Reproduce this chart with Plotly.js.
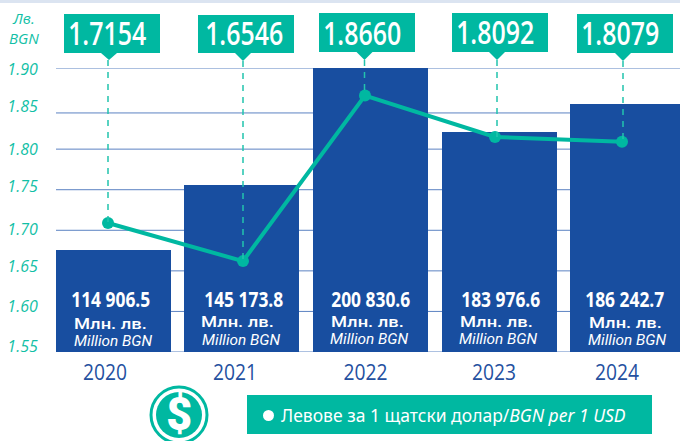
<!DOCTYPE html>
<html>
<head>
<meta charset="utf-8">
<script src="https://cdn.plot.ly/plotly-3.0.1.min.js"></script>
<style>html,body{margin:0;padding:0;background:#fff;overflow:hidden}#c{width:680px;height:441px}</style>
</head>
<body>
<div id="c"></div>
<script>
// ---- data ----
const years = ['2020', '2021', '2022', '2023', '2024'];
const rateLabels = ['1.7154', '1.6546', '1.8660', '1.8092', '1.8079'];
const rateLine = [1.709, 1.662, 1.866, 1.815, 1.809];
const barLevels = [1.6757, 1.7558, 1.9012, 1.8211, 1.8556];
const amountLabels = ['114 906.5', '145 173.8', '200 830.6', '183 976.6', '186 242.7'];
const axisLabels = ['1.90', '1.85', '1.80', '1.75', '1.70', '1.65', '1.60', '1.55'];
const gridLevels = [1.90, 1.8446, 1.80, 1.75, 1.70, 1.65, 1.60, 1.55];

// ---- page geometry (pixels in the 680x441 frame) ----
const W = 680, H = 441;
const plotL = 56, plotR = 680, plotT = 68, plotB = 352;
const step = 128.5, firstCentre = 113.5, barPx = 115;
const yMin = 1.55, yMax = 1.90;
const px = x => x / W;
const py = y => 1 - y / H;
const pxToX = p => (p - firstCentre) / step;
const pxToY = p => yMin + (plotB - p) / (plotB - plotT) * (yMax - yMin);
const yToPx = v => plotB - (v - yMin) / (yMax - yMin) * (plotB - plotT);

const barCentrePx = [113.5, 241, 370.5, 499.5, 627.5];
const pointPx = [108, 243, 365, 495, 622];
const dashPx = [108, 243, 364.5, 497, 623];
const yearPx = [105, 235, 365.5, 494, 617];
const axisLabelPx = [69, 106, 149, 186, 229, 266, 306, 346];
const boxes = [
  {l: 64, r: 160, t: 14, b: 53, tip: 109, tipY: 60, tx: 107, ty: 32},
  {l: 198, r: 294, t: 15, b: 53, tip: 243, tipY: 61, tx: 244, ty: 32},
  {l: 319, r: 415, t: 13, b: 52, tip: 364.5, tipY: 60, tx: 362, ty: 32},
  {l: 452, r: 548, t: 13, b: 52, tip: 497, tipY: 60, tx: 495, ty: 31.5},
  {l: 577, r: 673, t: 14, b: 53, tip: 623, tipY: 61, tx: 619.5, ty: 32}
];
const amountX = [111, 243.7, 371, 501, 625];
const mlnX = [110, 238, 367, 496.7, 625], mlnY = [323.5, 322, 322, 322, 323];
const millionX = [113, 241, 370, 499, 627.5], millionY = [340.5, 339.5, 339, 339, 340];

const TEAL = '#00b8a1', BLUE = '#184ea0', TICK = '#12bfa6', YEAR = '#24509f', GRID = '#5b82c2';

const traces = [
  {type: 'bar', x: barCentrePx.map(pxToX), y: barLevels.map(v => v - yMin), base: yMin, width: barPx / step,
   marker: {color: BLUE, line: {width: 0}}, cliponaxis: false, hoverinfo: 'skip'},
  {type: 'scatter', mode: 'lines+markers', x: pointPx.map(pxToX), y: rateLine,
   line: {color: TEAL, width: 4}, marker: {color: TEAL, size: 12}, cliponaxis: false, hoverinfo: 'skip'}
];

const shapes = [];
shapes.push({type: 'rect', xref: 'paper', yref: 'paper', x0: 0, x1: 1, y0: py(0), y1: py(3),
  fillcolor: '#dbe4f1', line: {width: 0}, layer: 'below'});
gridLevels.forEach(v => shapes.push({type: 'line', xref: 'paper', yref: 'y', x0: px(plotL), x1: px(plotR),
  y0: v, y1: v, line: {color: GRID, width: 1}, layer: 'below'}));
rateLine.forEach((v, i) => shapes.push({type: 'line', xref: 'paper', yref: 'paper',
  x0: px(dashPx[i]), x1: px(dashPx[i]), y0: py(boxes[i].tipY), y1: py(yToPx(v)),
  line: {color: '#22c3ad', width: 1.5, dash: '6px,6px'}}));
boxes.forEach(b => {
  shapes.push({type: 'rect', xref: 'paper', yref: 'paper', x0: px(b.l), x1: px(b.r), y0: py(b.t), y1: py(b.b),
    fillcolor: TEAL, line: {width: 0}});
  shapes.push({type: 'path', xref: 'paper', yref: 'paper',
    path: `M ${px(b.tip - 8)} ${py(b.b)} L ${px(b.tip + 8)} ${py(b.b)} L ${px(b.tip)} ${py(b.tipY)} Z`,
    fillcolor: TEAL, line: {width: 0}});
});
shapes.push({type: 'rect', xref: 'paper', yref: 'paper', x0: px(247), x1: px(652), y0: py(395), y1: py(434),
  fillcolor: TEAL, line: {width: 0}});
const circle = (cx, cy, r, style) => Object.assign({type: 'circle', xref: 'paper', yref: 'paper',
  x0: px(cx - r), x1: px(cx + r), y0: py(cy + r), y1: py(cy - r)}, style);
shapes.push(circle(268.5, 415.5, 5.5, {fillcolor: '#fff', line: {width: 0}}));
shapes.push(circle(179, 415, 28, {fillcolor: 'rgba(0,0,0,0)', line: {color: TEAL, width: 3}}));
shapes.push(circle(179, 415, 23, {fillcolor: TEAL, line: {width: 0}}));

const annotations = [], fitWidths = [];
const note = (x, y, text, font, fit, extra) => {
  annotations.push(Object.assign({xref: 'paper', yref: 'paper', x: px(x), y: py(y),
    text, font, showarrow: false, xanchor: 'center', yanchor: 'middle', borderpad: 0}, extra || {}));
  fitWidths.push(fit);
};
boxes.forEach((b, i) => note(b.tx, b.ty, rateLabels[i],
  {family: '"Open Sans"', size: 32, color: '#fff', weight: 600}, 78));
amountLabels.forEach((t, i) => {
  note(amountX[i], 299, t, {family: '"Open Sans"', size: 21, color: '#fff', weight: 700}, 79);
  note(mlnX[i], mlnY[i], 'Млн. лв.', {family: 'Roboto', size: 14.8, color: '#fff', weight: 500}, 73);
  note(millionX[i], millionY[i], 'Million BGN', {family: 'Roboto', size: 13.8, color: '#fff', style: 'italic'}, 78);
});
note(24.5, 28, 'Лв.<br>BGN', {family: '"Open Sans"', size: 15, color: TICK, style: 'italic'}, null);
note(280, 415, 'Левове за 1 щатски долар/<i>BGN per 1 USD</i>',
  {family: '"Noto Sans"', size: 17.5, color: '#fff'}, null, {xanchor: 'left'});
note(179, 413.5, '$', {family: 'Roboto', size: 46, color: '#fff', weight: 900}, 26);

const layout = {
  width: W, height: H, showlegend: false, paper_bgcolor: '#fff', plot_bgcolor: 'rgba(0,0,0,0)',
  margin: {l: 0, r: 0, t: 0, b: 0}, shapes, annotations, bargap: 0,
  xaxis: {domain: [px(plotL), px(plotR)], range: [pxToX(plotL), pxToX(plotR)], type: 'linear',
    tickmode: 'array', tickvals: yearPx.map(pxToX), ticktext: years, showgrid: false, zeroline: false,
    showline: false, ticks: 'outside', ticklen: 2, tickcolor: 'rgba(0,0,0,0)',
    tickfont: {family: '"Open Sans"', size: 21, color: YEAR}},
  yaxis: {domain: [py(plotB), py(plotT)], range: [yMin, yMax], type: 'linear',
    tickmode: 'array', tickvals: axisLabelPx.map(pxToY), ticktext: axisLabels, showgrid: false, zeroline: false,
    showline: false, ticks: 'outside', ticklen: 14, tickcolor: 'rgba(0,0,0,0)',
    tickfont: {family: '"Open Sans"', size: 16, color: TICK, style: 'italic'}}
};
const squeeze = (el, w) => {
  el.setAttribute('textLength', w);
  el.setAttribute('lengthAdjust', 'spacingAndGlyphs');
};
Plotly.newPlot('c', traces, layout, {staticPlot: true, displayModeBar: false}).then(gd => {
  gd.querySelectorAll('.annotation-text').forEach((el, i) => { if (fitWidths[i]) squeeze(el, fitWidths[i]); });
  gd.querySelectorAll('.xtick text').forEach(el => squeeze(el, 44));
});
</script>
</body>
</html>
